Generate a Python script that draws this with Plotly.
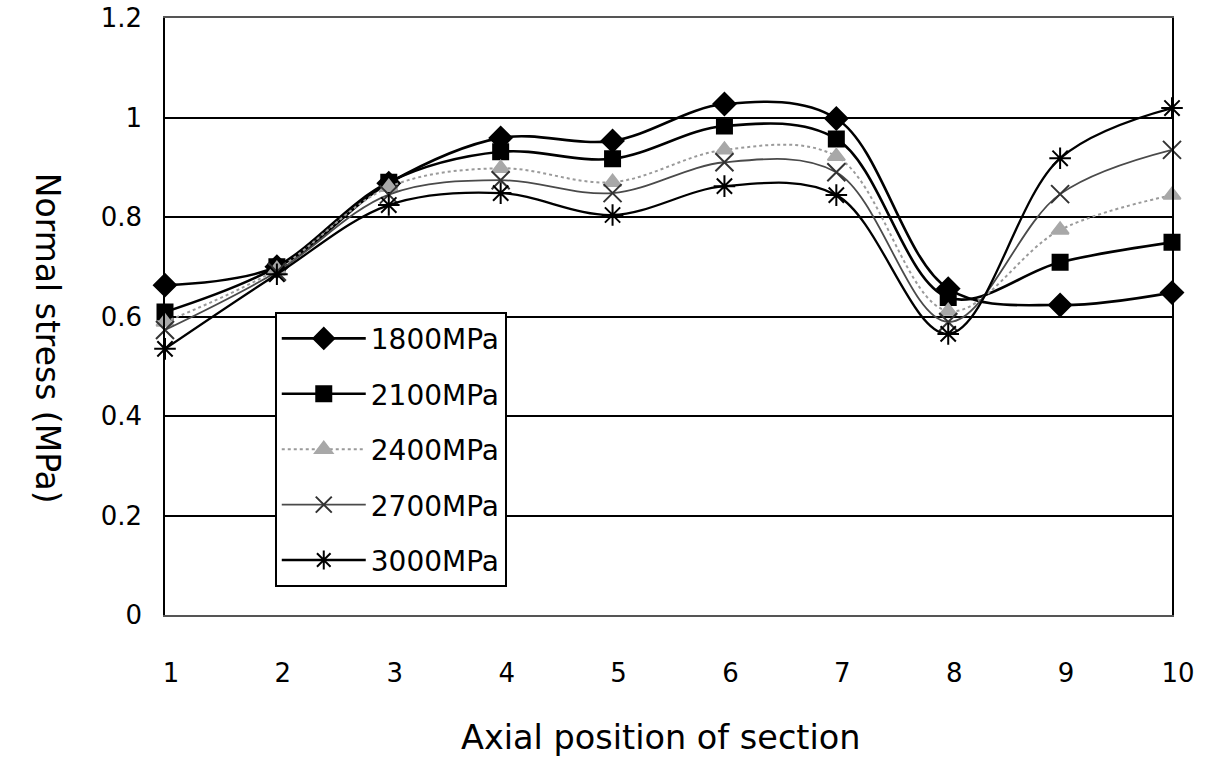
import plotly.graph_objects as go

positions = [1, 2, 3, 4, 5, 6, 7, 8, 9, 10]
s1800 = [0.663, 0.700, 0.868, 0.959, 0.953, 1.027, 0.998, 0.656, 0.623, 0.648]
s2100 = [0.609, 0.700, 0.870, 0.931, 0.917, 0.983, 0.957, 0.638, 0.709, 0.749]
s2400 = [0.589, 0.695, 0.860, 0.898, 0.870, 0.935, 0.922, 0.611, 0.774, 0.844]
s2700 = [0.573, 0.690, 0.845, 0.874, 0.848, 0.910, 0.890, 0.589, 0.846, 0.935]
s3000 = [0.535, 0.685, 0.824, 0.848, 0.804, 0.862, 0.844, 0.565, 0.918, 1.019]
names = ["1800MPa", "2100MPa", "2400MPa", "2700MPa", "3000MPa"]
yticks = [0, 0.2, 0.4, 0.6, 0.8, 1.0, 1.2]
ytick_text = ["0", "0.2", "0.4", "0.6", "0.8", "1", "1.2"]

FONT = "DejaVu Sans"

styles = [
    dict(color="black", width=2.6, dash="solid", symbol="diamond", msize=17, mcolor="black"),
    dict(color="black", width=2.6, dash="solid", symbol="square", msize=15, mcolor="black"),
    dict(color="#9a9a9a", width=2, dash="dot", symbol="triangle-up", msize=15, mcolor="#a8a8a8"),
    dict(color="#4a4a4a", width=1.8, dash="solid", symbol="x-thin-open", msize=18, mcolor="#333333"),
    dict(color="black", width=2.3, dash="solid", symbol="asterisk-open", msize=18, mcolor="black"),
]

fig = go.Figure()
for i, (name, ys, st) in enumerate(zip(names, [s1800, s2100, s2400, s2700, s3000], styles)):
    fig.add_trace(go.Scatter(
        x=positions, y=ys, name=name, mode="lines+markers",
        legendgroup=f"g{i}",
        line=dict(color=st["color"], width=st["width"], dash=st["dash"], shape="spline", smoothing=1.0),
        marker=dict(symbol=st["symbol"], size=st["msize"], color=st["mcolor"],
                    line=dict(color=st["mcolor"], width=2)),
        cliponaxis=False,
    ))

fig.update_layout(
    width=1208, height=765,
    margin=dict(l=165, r=36, t=18, b=150, autoexpand=False),
    paper_bgcolor="white", plot_bgcolor="white",
    font=dict(family=FONT, color="black", size=26),
    showlegend=True,
    legend=dict(
        x=0.109, y=0.508, xanchor="left", yanchor="top",
        bgcolor="white", bordercolor="black", borderwidth=2,
        font=dict(family=FONT, size=28, color="black"),
        itemwidth=84, tracegroupgap=16,
    ),
    xaxis=dict(
        range=[1, 10], tickvals=positions, ticktext=[str(p) for p in positions],
        showgrid=False, zeroline=False, ticks="", ticklabelstandoff=34, ticklabelshift=6,
        showline=True, linecolor="#555555", linewidth=1.5, mirror=True,
        tickfont=dict(size=26), automargin=False,
    ),
    yaxis=dict(
        range=[0, 1.2], tickvals=yticks, ticktext=ytick_text,
        showgrid=True, gridcolor="black", gridwidth=1.5, zeroline=False,
        ticks="", ticklabelstandoff=16,
        showline=True, linecolor="black", linewidth=1.5, mirror=True,
        tickfont=dict(size=26), automargin=False,
    ),
)

fig.add_annotation(
    text="Normal stress (MPa)", textangle=90, xref="paper", yref="paper",
    x=-0.117, y=0.464, showarrow=False, font=dict(size=33, family=FONT),
    xanchor="center", yanchor="middle",
)
fig.add_annotation(
    text="Axial position of section", xref="paper", yref="paper",
    x=0.492, y=-0.206, showarrow=False, font=dict(size=33.5, family=FONT),
    xanchor="center", yanchor="middle",
)

fig.write_html("out.html")
